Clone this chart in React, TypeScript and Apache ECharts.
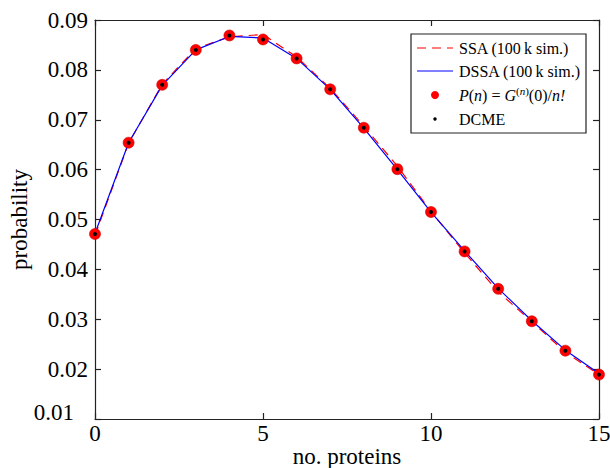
import React, { useEffect, useRef } from "react";
import * as echarts from "echarts";

const proteinCounts = [0, 1, 2, 3, 4, 5, 6, 7, 8, 9, 10, 11, 12, 13, 14, 15];
const ssaProb = [0.0468, 0.0653, 0.0771, 0.0843, 0.0866, 0.0871, 0.0826, 0.0763, 0.0687, 0.0607, 0.0516, 0.0433, 0.0355, 0.0295, 0.0234, 0.0189];
const dssaProb = [0.0472, 0.0654, 0.0769, 0.084, 0.0867, 0.0864, 0.0823, 0.0761, 0.0683, 0.06, 0.0515, 0.0437, 0.0362, 0.0297, 0.0238, 0.0191];
const exactProb = [0.0471, 0.0654, 0.077, 0.084, 0.0869, 0.0861, 0.0823, 0.0761, 0.0684, 0.0601, 0.0515, 0.0436, 0.0361, 0.0296, 0.0237, 0.0189];
const dcmeProb = [0.0471, 0.0654, 0.077, 0.084, 0.0869, 0.0861, 0.0823, 0.0761, 0.0684, 0.0601, 0.0515, 0.0436, 0.0361, 0.0296, 0.0237, 0.0189];
const xTicks = [0, 5, 10, 15];
const yTicks = [0.01, 0.02, 0.03, 0.04, 0.05, 0.06, 0.07, 0.08, 0.09];
const legendLabels = ["SSA (100\u2009k sim.)", "DSSA (100\u2009k sim.)", "P(n) = G^(n)(0)/n!", "DCME"];

const FONT = "Liberation Serif";

export default function App() {
  const ref = useRef<HTMLDivElement>(null);
  useEffect(() => {
    if (!ref.current) return;
    const chart = echarts.init(ref.current, null, { renderer: "svg" });
    const pair = (ys: number[]) => proteinCounts.map((x, i) => [x, ys[i]]);
    const axisCommon = {
      type: "value" as const,
      axisLine: { show: true, onZero: false, lineStyle: { color: "#222", width: 1.2 } },
      axisTick: { show: true, inside: true, length: 6, lineStyle: { color: "#222", width: 1.2 } },
      splitLine: { show: false },
    };
    const legendX = 411;
    const legendY = 34;
    const rowY = [48, 71, 95, 119];
    const legendText = (i: number) => ({
      type: "text",
      x: 459,
      y: rowY[i],
      style: { text: legendLabels[i], fontFamily: FONT, fontSize: 16, fill: "#000", verticalAlign: "middle" },
    });
    chart.setOption({
      animation: false,
      textStyle: { fontFamily: FONT },
      grid: { left: 95, right: 11, top: 20, bottom: 49, containLabel: false, outerBoundsMode: "none" },
      xAxis: [
        {
          ...axisCommon,
          position: "bottom",
          min: xTicks[0],
          max: xTicks[xTicks.length - 1],
          interval: 5,
          name: "no. proteins",
          nameLocation: "middle",
          nameGap: 26,
          nameMoveOverlap: false,
          nameTextStyle: { fontFamily: FONT, fontSize: 23, color: "#000" },
          axisLabel: { fontFamily: FONT, fontSize: 23, color: "#000", margin: 3 },
        },
        {
          ...axisCommon,
          position: "top",
          min: xTicks[0],
          max: xTicks[xTicks.length - 1],
          interval: 5,
          axisLabel: { show: false },
        },
      ],
      yAxis: [
        {
          ...axisCommon,
          position: "left",
          min: yTicks[0],
          max: yTicks[yTicks.length - 1],
          interval: 0.01,
          name: "probability",
          nameLocation: "middle",
          nameGap: 64,
          nameMoveOverlap: false,
          nameRotate: 90,
          nameTextStyle: { fontFamily: FONT, fontSize: 23, color: "#000" },
          axisLabel: {
            fontFamily: FONT,
            fontSize: 23,
            color: "#000",
            margin: 7,
            formatter: (v: number) => {
              const s = v.toFixed(2);
              return Math.abs(v - yTicks[0]) < 1e-9 ? "{c|" + s + "}" : s;
            },
            rich: {
              c: { fontFamily: FONT, fontSize: 23, color: "#000", padding: [0, 14, 14, 0] },
            },
          },
        },
        {
          ...axisCommon,
          position: "right",
          min: yTicks[0],
          max: yTicks[yTicks.length - 1],
          interval: 0.01,
          axisLabel: { show: false },
        },
      ],
      series: [
        {
          name: legendLabels[0],
          type: "line",
          data: pair(ssaProb),
          showSymbol: false,
          lineStyle: { color: "#ff0000", width: 1.2, type: [9, 6] },
          z: 2,
        },
        {
          name: legendLabels[1],
          type: "line",
          data: pair(dssaProb),
          showSymbol: false,
          lineStyle: { color: "#0000ff", width: 1.2 },
          z: 3,
        },
        {
          name: legendLabels[2],
          type: "scatter",
          data: pair(exactProb),
          symbolSize: 11,
          itemStyle: { color: "#ff0000", borderColor: "#d00000", borderWidth: 0.6, opacity: 1 },
          z: 4,
        },
        {
          name: legendLabels[3],
          type: "scatter",
          data: pair(dcmeProb),
          symbolSize: 4,
          itemStyle: { color: "#000", opacity: 1 },
          z: 5,
        },
      ],
      graphic: [
        {
          type: "group",
          z: 100,
          children: [
            {
              type: "rect",
              shape: { x: legendX, y: legendY, width: 175, height: 99 },
              style: { fill: "#fff", stroke: "#222", lineWidth: 1.2 },
            },
            {
              type: "line",
              shape: { x1: 417, y1: rowY[0], x2: 453, y2: rowY[0] },
              style: { stroke: "#ff0000", lineWidth: 1.2, lineDash: [9, 6] },
            },
            {
              type: "line",
              shape: { x1: 417, y1: rowY[1], x2: 453, y2: rowY[1] },
              style: { stroke: "#0000ff", lineWidth: 1.2 },
            },
            {
              type: "circle",
              shape: { cx: 435, cy: rowY[2], r: 4 },
              style: { fill: "#ff0000" },
            },
            {
              type: "circle",
              shape: { cx: 435, cy: rowY[3], r: 1.7 },
              style: { fill: "#000" },
            },
            legendText(0),
            legendText(1),
            {
              type: "text",
              x: 459,
              y: rowY[2],
              style: {
                text: "{i|P}({i|n}) = {i|G}{s|(}{si|n}{s|)}(0)/{i|n!}",
                fontFamily: FONT,
                fontSize: 16,
                fill: "#000",
                verticalAlign: "middle",
                rich: {
                  i: { fontFamily: FONT, fontSize: 16, fontStyle: "italic", fill: "#000" },
                  s: { fontFamily: FONT, fontSize: 11, fill: "#000", padding: [0, 0, 8, 0] },
                  si: { fontFamily: FONT, fontSize: 11, fontStyle: "italic", fill: "#000", padding: [0, 0, 8, 0] },
                },
              },
            },
            legendText(3),
          ],
        },
      ],
    });
    return () => chart.dispose();
  }, []);
  return <div ref={ref} style={{ width: 610, height: 468, position: "absolute", left: 0, top: 0 }} />;
}
